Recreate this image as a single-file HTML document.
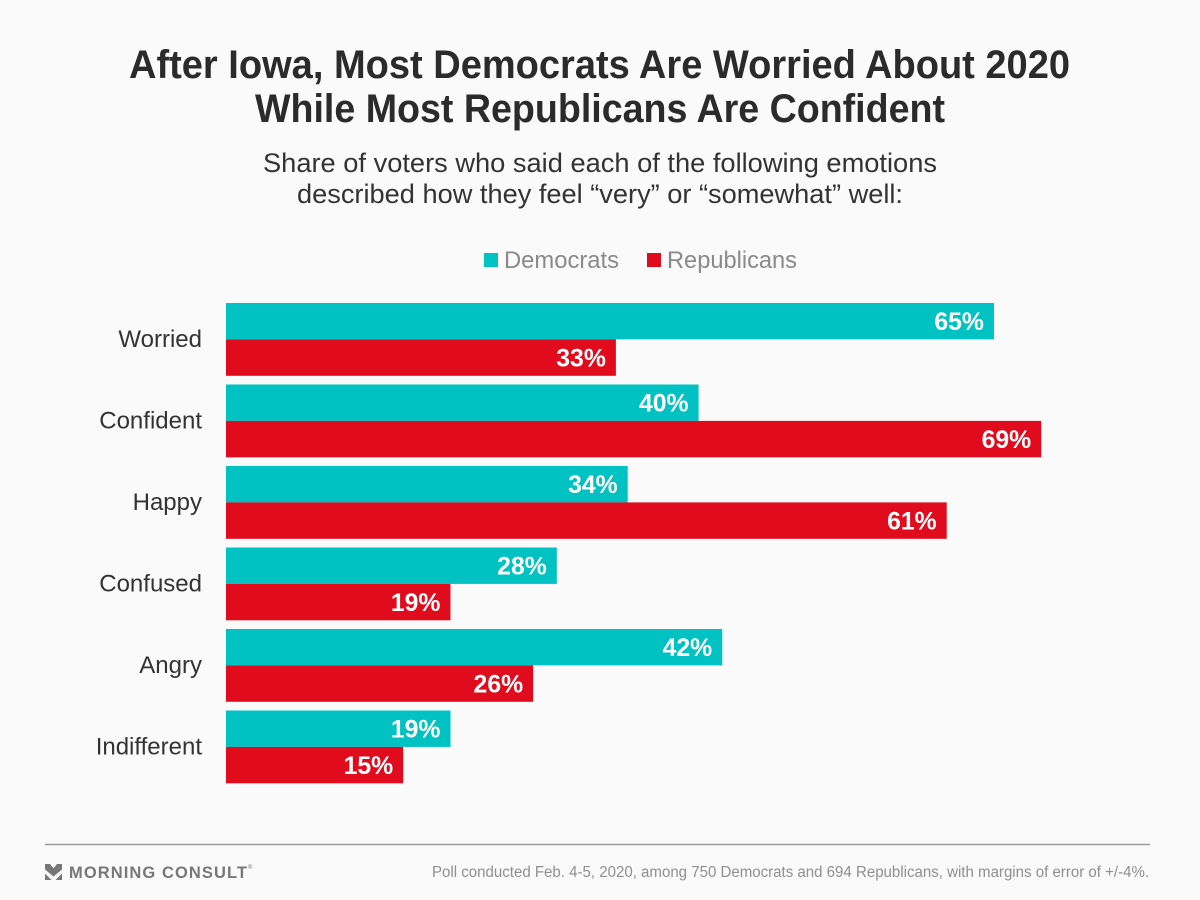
<!DOCTYPE html>
<html>
<head>
<meta charset="utf-8">
<title>After Iowa, Most Democrats Are Worried About 2020</title>
<style>
html,body{margin:0;padding:0;background:#fafafa;}
svg{display:block;font-family:"Liberation Sans",sans-serif;}
</style>
</head>
<body>
<svg id="chart" width="1200" height="900" viewBox="0 0 1200 900" xmlns="http://www.w3.org/2000/svg">
<rect width="1200" height="900" fill="#fafafa"/>
<text x="129" y="78" font-size="40" font-weight="700" fill="#2b2b2b" textLength="941" lengthAdjust="spacingAndGlyphs">After Iowa, Most Democrats Are Worried About 2020</text>
<text x="255" y="122" font-size="40" font-weight="700" fill="#2b2b2b" textLength="690" lengthAdjust="spacingAndGlyphs">While Most Republicans Are Confident</text>
<text x="263" y="172" font-size="27" fill="#333333" textLength="674" lengthAdjust="spacingAndGlyphs">Share of voters who said each of the following emotions</text>
<text x="297" y="203" font-size="27" fill="#333333" textLength="606" lengthAdjust="spacingAndGlyphs">described how they feel “very” or “somewhat” well:</text>
<g>
<rect x="484" y="253" width="14" height="14" fill="#00c2c2"/>
<text x="504" y="268" font-size="24" fill="#8a8a8a" textLength="115" lengthAdjust="spacingAndGlyphs">Democrats</text>
<rect x="647" y="253" width="14" height="14" fill="#e00b1c"/>
<text x="667" y="268" font-size="24" fill="#8a8a8a" textLength="130" lengthAdjust="spacingAndGlyphs">Republicans</text>
</g>
<g id="bars"></g>
<line x1="45" y1="844.5" x2="1150" y2="844.5" stroke="#9a9a9a" stroke-width="1.5"/>
<g>
<polygon points="45,864 50,864 53.5,868.5 57,864 62,864 62,869.5 53.5,876.5 45,869.5" fill="#777"/>
<polygon points="45,873.5 51.5,880 45,880" fill="#777"/>
<polygon points="62,873.5 62,880 55.5,880" fill="#777"/>
<text x="69" y="878" font-size="16.5" font-weight="700" fill="#777" textLength="178" lengthAdjust="spacing">MORNING CONSULT</text>
<text x="248" y="869" font-size="6" fill="#777">®</text>
</g>
<text x="432" y="877" font-size="15.5" fill="#8f8f8f" textLength="717" lengthAdjust="spacingAndGlyphs">Poll conducted Feb. 4-5, 2020, among 750 Democrats and 694 Republicans, with margins of error of +/-4%.</text>
</svg>
<script>
var categories = ["Worried", "Confident", "Happy", "Confused", "Angry", "Indifferent"];
var democrats = [65, 40, 34, 28, 42, 19];
var republicans = [33, 69, 61, 19, 26, 15];

var NS = "http://www.w3.org/2000/svg";
var barsGroup = document.getElementById("bars");
function xScale(v) { return 226 + v * 11.815; }
function yBand(i) { return 303 + i * 81.5; }
var BAR_H = 36.4;

function addBar(seriesName, color, v, i, offset) {
  var y = yBand(i) + offset;
  var r = document.createElementNS(NS, "rect");
  
  
  r.setAttribute("x", xScale(0));
  r.setAttribute("y", y);
  r.setAttribute("width", xScale(v) - xScale(0));
  r.setAttribute("height", BAR_H);
  r.setAttribute("fill", color);
  barsGroup.appendChild(r);
  var t = document.createElementNS(NS, "text");
  
  
  t.setAttribute("x", xScale(v) - 10);
  t.setAttribute("y", y + 27);
  t.setAttribute("text-anchor", "end");
  t.setAttribute("font-size", "24.8");
  t.setAttribute("font-weight", "700");
  t.setAttribute("fill", "#ffffff");
  t.textContent = v + "%";
  barsGroup.appendChild(t);
}

categories.forEach(function (c, i) {
  addBar("democrats", "#00c2c2", democrats[i], i, 0);
  addBar("republicans", "#e00b1c", republicans[i], i, BAR_H);
  var l = document.createElementNS(NS, "text");
  
  
  l.setAttribute("x", 202);
  l.setAttribute("y", yBand(i) + 44);
  l.setAttribute("text-anchor", "end");
  l.setAttribute("font-size", "24");
  l.setAttribute("fill", "#333333");
  l.textContent = c;
  barsGroup.appendChild(l);
});
</script>
</body>
</html>
